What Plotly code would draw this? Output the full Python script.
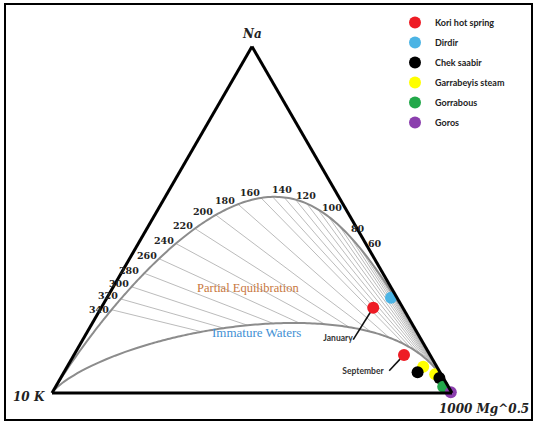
import numpy as np
import plotly.graph_objects as go

# ---------------------------------------------------------------------------
# Giggenbach Na-K-Mg diagram: Na/1000 (top), K/100 (left), sqrt(Mg) (right)
# ---------------------------------------------------------------------------

# Temperatures (deg C) labelled along the full-equilibrium line
label_temps = [60, 80, 100, 120, 140, 160, 180, 200, 220, 240, 260, 280, 300, 320, 340]
# Temperatures of the Na/K isotherm tie lines
line_temps = [40, 50, 60, 70, 80, 90, 100, 110, 120, 130, 140, 150, 160, 180, 200,
              220, 240, 260, 280, 300, 320, 340]

# Sample compositions, ternary percentages (Na, K, Mg)
kori_na = [24.6, 11.0]
kori_k = [7.4, 6.5]
kori_mg = [68.0, 82.5]
kori_tags = ["January", "September"]

dirdir_na = [27.5]
dirdir_k = [1.5]
dirdir_mg = [71.0]

chek_na = [6.0, 4.3]
chek_k = [5.6, 1.0]
chek_mg = [88.4, 94.7]

garra_na = [7.6, 5.4]
garra_k = [3.4, 1.5]
garra_mg = [89.0, 93.1]

gorrabous_na = [1.8]
gorrabous_k = [1.3]
gorrabous_mg = [96.9]

goros_na = [0.2]
goros_k = [0.2]
goros_mg = [99.6]

MATURITY_LIMIT = 1.95   # maturity index bounding the immature waters

# page / triangle geometry (px)
W, H = 534, 423
TRI_LEFT, TRI_BOTTOM, TRI_SIDE = 52, 393, 400
SQ3 = np.sqrt(3) / 2

# text offsets (px) of each temperature label from its point on the curve
label_shift = [(5, -17), (8, -8), (3, -9), (-1, -8), (-2, -8), (-11, -5), (-13, -4),
               (-13, -3), (-12, -3), (-12, -3), (-12, -3), (-15, -3), (-13, -3),
               (-13, -3), (-13, 0)]

# where the Kori leader lines end and their tags sit (Na, K, Mg)
tag_line_end = [(15.4, 17.0, 67.6), (6.4, 12.5, 81.1)]
tag_text_pos = [(15.6, 20.7, 63.7), (6.1, 19.2, 74.7)]


def eq_point(t):
    """Full equilibrium composition (Na/1000, K/100, Mg^0.5) at t deg C."""
    tk = t + 273.15
    lnk = 1390.0 / tk - 1.75          # log(Na/K)
    lkm = 14.0 - 4410.0 / tk          # log(K^2/Mg)
    k = 1.0
    return 10 ** lnk * k / 1000.0, k / 100.0, k * 10 ** (-lkm / 2)


def immature_point(t, mi=MATURITY_LIMIT):
    """Point with the same Na/K ratio on the immature-water boundary."""
    tk = t + 273.15
    lnk = 1390.0 / tk - 1.75
    lkm = (mi - lnk) / 0.315
    k = 1.0
    return 10 ** lnk * k / 1000.0, k / 100.0, k * 10 ** (-lkm / 2)


def norm(p):
    s = sum(p)
    return [v / s for v in p]


def to_page(p):
    a, b, c = norm(p)
    px = TRI_LEFT + TRI_SIDE * (c + a / 2)
    py = TRI_BOTTOM - TRI_SIDE * a * SQ3
    return px, py


curve_t = np.concatenate([np.arange(28, 400, 2), np.geomspace(400, 20000, 80)])
eq = np.array([norm(eq_point(t)) for t in curve_t])
im = np.array([norm(immature_point(t)) for t in curve_t])
# both curves run into the K corner
eq = np.vstack([eq, [0, 1, 0]])
im = np.vstack([im, [0, 1, 0]])

fig = go.Figure()

GRID = "#a9a9a9"
CURVE = "#8c8c8c"

# Na/K isotherm tie lines
for t in line_temps:
    p0, p1 = norm(eq_point(t)), norm(immature_point(t))
    fig.add_trace(go.Scatterternary(
        a=[p0[0], p1[0]], b=[p0[1], p1[1]], c=[p0[2], p1[2]],
        mode="lines", line=dict(color=GRID, width=0.8),
        showlegend=False, hoverinfo="skip"))

fig.add_trace(go.Scatterternary(
    a=eq[:, 0], b=eq[:, 1], c=eq[:, 2], mode="lines",
    line=dict(color=CURVE, width=2), showlegend=False, hoverinfo="skip"))
fig.add_trace(go.Scatterternary(
    a=im[:, 0], b=im[:, 1], c=im[:, 2], mode="lines",
    line=dict(color=CURVE, width=2), showlegend=False, hoverinfo="skip"))

# leader lines for the two Kori samples
for i in range(len(kori_tags)):
    e = tag_line_end[i]
    fig.add_trace(go.Scatterternary(
        a=[kori_na[i], e[0]], b=[kori_k[i], e[1]], c=[kori_mg[i], e[2]],
        mode="lines", line=dict(color="#111111", width=1.6),
        showlegend=False, hoverinfo="skip"))

fig.add_trace(go.Scatterternary(
    a=[p[0] for p in tag_text_pos], b=[p[1] for p in tag_text_pos],
    c=[p[2] for p in tag_text_pos], mode="text", text=kori_tags,
    textfont=dict(family="Lato", size=8.5, color="#333333", weight="bold"),
    showlegend=False, hoverinfo="skip", cliponaxis=False))

series = [
    ("Dirdir", dirdir_na, dirdir_k, dirdir_mg, "#4cb4e4", 2),
    ("Garrabeyis steam", garra_na, garra_k, garra_mg, "#ffff00", 4),
    ("Kori hot spring", kori_na, kori_k, kori_mg, "#ee1c25", 1),
    ("Chek saabir", chek_na, chek_k, chek_mg, "#000000", 3),
    ("Gorrabous", gorrabous_na, gorrabous_k, gorrabous_mg, "#22a84a", 5),
    ("Goros", goros_na, goros_k, goros_mg, "#8b3fae", 6),
]
for name, na, k, mg, col, rank in series:
    fig.add_trace(go.Scatterternary(
        a=na, b=k, c=mg, mode="markers", name=name,
        marker=dict(size=12, color=col, line=dict(width=0)),
        legendrank=rank, legendgroup=name, cliponaxis=False))

axis = dict(showticklabels=False, ticks="", showgrid=False,
            linecolor="black", linewidth=3, title=dict(text=""))
fig.update_layout(
    width=W, height=H, margin=dict(l=0, r=0, t=0, b=0),
    paper_bgcolor="white", plot_bgcolor="white",
    ternary=dict(
        sum=100, bgcolor="white",
        domain=dict(x=[TRI_LEFT / W, (TRI_LEFT + TRI_SIDE) / W],
                    y=[(H - TRI_BOTTOM) / H, (H - TRI_BOTTOM + TRI_SIDE * SQ3) / H]),
        aaxis=axis, baxis=axis, caxis=axis),
    legend=dict(x=395 / W, y=1 - 8 / H, xanchor="left", yanchor="top",
                font=dict(family="Lato", size=9, color="#222222", weight="bold"),
                bgcolor="rgba(0,0,0,0)", tracegroupgap=1, itemsizing="trace"),
    showlegend=True,
    shapes=[dict(type="rect", xref="paper", yref="paper",
                 x0=5 / W, x1=532 / W, y0=1 - 420 / H, y1=1 - 4 / H,
                 line=dict(color="black", width=2))],
)


def note(px, py, text, font):
    fig.add_annotation(x=px / W, y=1 - py / H, xref="paper", yref="paper",
                       xanchor="center", yanchor="middle",
                       text=text, showarrow=False, font=font)


# temperature labels along the equilibrium line
temp_font = dict(family="DejaVu Serif", size=9.5, color="#222222", weight="bold")
for t, (dx, dy) in zip(label_temps, label_shift):
    px, py = to_page(eq_point(t))
    note(px + dx, py + dy, str(t), temp_font)

corner_font = dict(family="DejaVu Serif", size=12, color="#222222")
note(252, 34, "<b><i>Na</i></b>", corner_font)
note(29, 397, "<b><i>10 K</i></b>", corner_font)
note(484, 409, "<b><i>1000 Mg^0.5</i></b>", corner_font)
note(248, 288, "Partial Equilibration",
     dict(family="Liberation Serif", size=12.5, color="#c8773e"))
note(256, 332, "Immature Waters",
     dict(family="Liberation Serif", size=13, color="#3f90d4"))

fig.write_html("out.html")
